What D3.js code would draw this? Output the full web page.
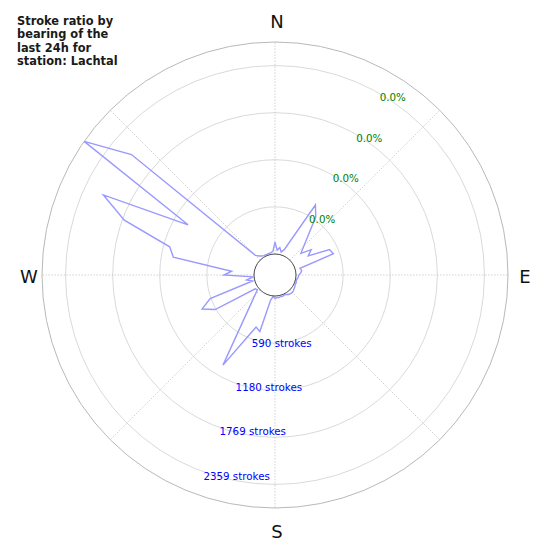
<html>
    <head>
        <title>Stroke ratio by bearing</title>
        <style>
            body {
                margin: 0;
                background-color: white;
            }
            svg text {
                font-family: "DejaVu Sans", sans-serif;
            }
        </style>
    </head>
    <body>
        <svg id="chart" width="550" height="550"></svg>
        <script src="https://cdn.jsdelivr.net/npm/d3@7"></script>
        <script>

            // bearings (deg, clockwise from north) of the plotted bins and their stroke counts
            const bearings = [0, 5, 10, 15, 20, 30, 35, 50, 55, 60, 65, 70, 75, 80, 85, 90, 95, 100, 105, 110,
                115, 120, 125, 130, 135, 140, 145, 150, 155, 160, 165, 170, 175, 180, 185, 190, 195, 200, 210,
                230, 235, 240, 245, 250, 255, 260, 265, 270, 275, 280, 285, 290, 295, 300, 305, 310, 315, 320,
                325, 330, 335, 340, 345, 350, 355];
            const strokes = [148, 50, 85, 35, 75, 749, 627, 160, 290, 217, 490, 515, 61, 75, 63, 35, 30, 18, 12, 20,
                15, 25, 30, 40, 45, 40, 35, 20, 12, 20, 15, 25, 20, 30, 8, 58, 470, 430, 1040,
                25, 40, 602, 745, 601, 28, 97, 10, 376, 282, 1030, 1102, 1745, 2108, 994, 2654, 2083, 85, 48,
                27, 18, 15, 14, 18, 22, 35];

            const tickValues = [590, 1180, 1769, 2359];
            const tickLabels = ["590 strokes", "1180 strokes", "1769 strokes", "2359 strokes"];
            const pctLabels = ["0.0%", "0.0%", "0.0%", "0.0%"];
            const compass = [["N", 0], ["E", 90], ["S", 180], ["W", 270]];
            const spokes = [0, 45, 90, 135, 180, 225, 270, 315];
            const titleLines = ["Stroke ratio by", "bearing of the", "last 24h for", "station: Lachtal"];

            const CX = 275, CY = 275;
            const R_HOLE = 21, R_OUT = 233;
            const R_SCALE = d3.scaleLinear().domain([0, d3.max(strokes)]).range([R_HOLE, R_OUT]);
            const RAD = d3.scaleLinear().domain([0, 360]).range([0, 2 * Math.PI]);

            var svg = d3.select("#chart");
            var g = svg.append("g").attr("transform", "translate(" + CX + "," + CY + ")");

            function px(r, deg) { return r * Math.sin(RAD(deg)); }
            function py(r, deg) { return -r * Math.cos(RAD(deg)); }

            // rings
            g.selectAll("circle.ring").data(tickValues).join("circle")
                .attr("class", "ring")
                .attr("r", d => R_SCALE(d))
                .attr("fill", "none")
                .attr("stroke", "#cfcfcf")
                .attr("stroke-width", 0.8);

            // spokes
            g.selectAll("line.spoke").data(spokes).join("line")
                .attr("class", "spoke")
                .attr("x1", d => px(R_HOLE, d)).attr("y1", d => py(R_HOLE, d))
                .attr("x2", d => px(R_OUT, d)).attr("y2", d => py(R_OUT, d))
                .attr("stroke", "#bdbdbd")
                .attr("stroke-width", 0.7)
                .attr("stroke-dasharray", "1.5,1.5");

            // frame
            g.append("circle")
                .attr("r", R_OUT)
                .attr("fill", "none")
                .attr("stroke", "#b0b0b0")
                .attr("stroke-width", 0.9);

            // stroke polygon
            const line = d3.lineRadial()
                .angle(d => RAD(d[0]))
                .radius(d => R_SCALE(d[1]))
                .curve(d3.curveLinearClosed);

            g.append("path")
                .datum(d3.zip(bearings, strokes))
                .attr("d", line)
                .attr("fill", "none")
                .attr("stroke", "#9999ff")
                .attr("stroke-width", 1.4)
                .attr("stroke-linejoin", "miter");

            // hole
            g.append("circle")
                .attr("r", R_HOLE)
                .attr("fill", "white")
                .attr("stroke", "#333")
                .attr("stroke-width", 0.9);

            // stroke count labels
            g.selectAll("text.rlab").data(tickValues).join("text")
                .attr("class", "rlab")
                .attr("x", d => px(R_SCALE(d), 200))
                .attr("y", d => py(R_SCALE(d), 200) + 3.8)
                .attr("dominant-baseline", "central")
                .attr("font-size", "10.3px")
                .attr("fill", "blue")
                .text((d, i) => tickLabels[i]);

            // percent labels
            g.selectAll("text.plab").data(tickValues).join("text")
                .attr("class", "plab")
                .attr("x", d => px(R_SCALE(d), 30))
                .attr("y", d => py(R_SCALE(d), 30) + 3.3)
                .attr("dominant-baseline", "central")
                .attr("font-size", "10.3px")
                .attr("fill", "green")
                .text((d, i) => pctLabels[i]);

            // compass letters
            g.selectAll("text.dir").data(compass).join("text")
                .attr("class", "dir")
                .attr("x", d => px(248 + 7 * Math.abs(Math.cos(RAD(d[1]))), d[1]) + 2)
                .attr("y", d => py(248 + 7 * Math.abs(Math.cos(RAD(d[1]))), d[1]) + 1.7)
                .attr("text-anchor", "middle")
                .attr("dominant-baseline", "central")
                .attr("font-size", "18px")
                .attr("fill", "#111")
                .text(d => d[0]);

            // title
            svg.append("text")
                .attr("x", 17)
                .attr("y", 25)
                .attr("font-size", "11.4px")
                .attr("font-weight", "bold")
                .attr("fill", "#1a1a1a")
                .selectAll("tspan").data(titleLines).join("tspan")
                .attr("x", 17)
                .attr("dy", (d, i) => i === 0 ? 0 : 13.3)
                .text(d => d);
        </script>
    </body>
</html>
